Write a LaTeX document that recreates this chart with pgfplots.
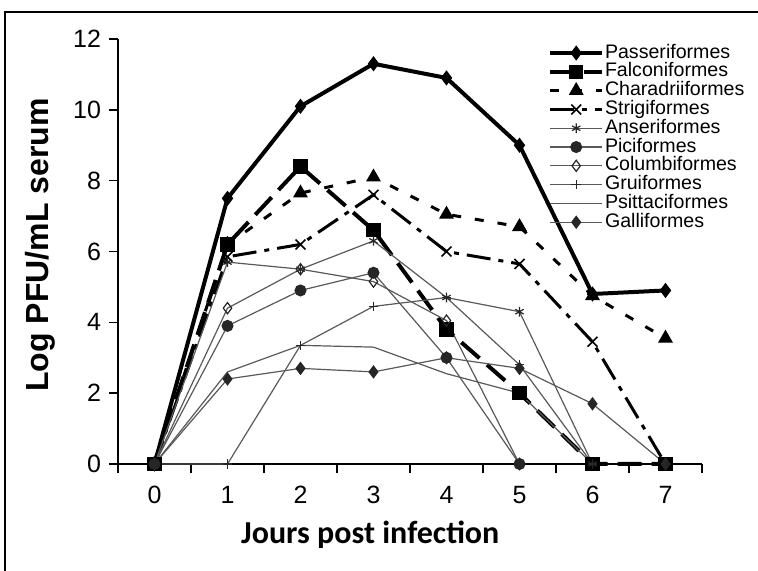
\documentclass[border=0pt]{standalone}
\usepackage{fontspec}
\setmainfont{Liberation Sans}
\newfontfamily\carlito{Carlito}
\usepackage{pgfplots}
\pgfplotsset{compat=1.18}
\begin{document}
\begin{tikzpicture}[x=1pt,y=1pt]
\useasboundingbox (0,0) rectangle (379,285.5);
\draw[line width=1pt] (2.5,-2) -- (2.5,279.5) -- (381,279.5);
\begin{axis}[
  at={(59pt,53.5pt)}, anchor=south west,
  scale only axis, width=292pt, height=212.5pt,
  xmin=-0.5, xmax=7.5, ymin=0, ymax=12,
  clip=false,
  axis lines=left, axis line style={-, line width=0.9pt},
  xtick={-0.5,0.5,...,7.5},
  xticklabels={0,1,2,3,4,5,6,7,{}},
  ytick={0,2,...,12},
  major tick length=4.5pt,
  tick align=outside, tick style={black, line width=0.8pt},
  ticklabel style={font=\fontsize{12.5}{12.5}\selectfont},
  yticklabel style={xshift=-0.5pt},
  xticklabel style={xshift=18.25pt, yshift=-3pt},
  /pgf/number format/assume math mode=true,
  xlabel={\carlito\bfseries Jours post infection},
  xlabel style={at={(axis description cs:0.432,-0.167)}, anchor=center, font=\fontsize{16}{16}\selectfont},
  ylabel={Log PFU/mL serum},
  ylabel style={at={(axis description cs:-0.133,0.515)}, anchor=center, font=\bfseries\fontsize{16}{16}\selectfont},
  legend cell align=left,
  legend style={at={(axis description cs:0.736,0.99)}, anchor=north west, draw=none, fill=none,
    inner sep=0pt, row sep=0pt, font=\fontsize{9.8}{9.8}\selectfont,
    nodes={inner sep=0.4pt, text height=6.8pt, text depth=1.8pt}},
  legend image code/.code={\draw[mark repeat=2,mark phase=2,#1] plot coordinates {(0pt,0pt) (13pt,0pt) (26pt,0pt)};},
  thin/.style={black!65, line width=0.6pt, mark size=2.4pt, mark options={solid, black!85}},
]
\addplot[black, line width=2pt, mark=diamond*, mark size=3.4pt, mark options={solid, line width=0.5pt}]
  coordinates {(0,0)(1,7.5)(2,10.1)(3,11.3)(4,10.9)(5,9.0)(6,4.8)(7,4.9)};
\addlegendentry{Passeriformes}
\addplot[black, line width=2pt, dash pattern=on 12pt off 5pt, mark=square*, mark size=3.3pt, mark options={solid, line width=0.5pt}]
  coordinates {(0,0)(1,6.2)(2,8.4)(3,6.6)(4,3.8)(5,2.0)(6,0)(7,0)};
\addlegendentry{Falconiformes}
\addplot[black, line width=1.5pt, dash pattern=on 4.5pt off 7pt, mark=triangle*, mark size=3.8pt, mark options={solid, line width=0.5pt}]
  coordinates {(0,0)(1,6.2)(2,7.65)(3,8.1)(4,7.05)(5,6.7)(6,4.75)(7,3.55)};
\addlegendentry{Charadriiformes}
\addplot[black, line width=1.5pt, dash pattern=on 12pt off 4pt on 2.5pt off 4pt, mark=x, mark size=3.5pt, mark options={solid, line width=0.8pt}]
  coordinates {(0,0)(1,5.85)(2,6.2)(3,7.6)(4,6.0)(5,5.65)(6,3.45)(7,0)};
\addlegendentry{Strigiformes}
\addplot[thin, mark=asterisk]
  coordinates {(0,0)(1,5.7)(2,5.5)(3,6.3)(4,4.7)(5,4.3)(6,0)};
\addlegendentry{Anseriformes}
\addplot[thin, mark=*, mark size=2.7pt]
  coordinates {(0,0)(1,3.9)(2,4.9)(3,5.4)(4,3.0)(5,0)};
\addlegendentry{Piciformes}
\addplot[thin, mark=diamond, mark size=2.8pt, mark options={solid, black!85, fill=white}]
  coordinates {(0,0)(1,4.4)(2,5.5)(3,5.15)(4,4.05)(5,0)};
\addlegendentry{Columbiformes}
\addplot[thin, mark=+]
  coordinates {(0,0)(1,0)(2,3.35)(3,4.45)(4,4.7)(5,2.8)(6,0)};
\addlegendentry{Gruiformes}
\addplot[thin]
  coordinates {(0,0)(1,2.6)(2,3.35)(3,3.3)(4,2.55)(5,2.0)(6,0)};
\addlegendentry{Psittaciformes}
\addplot[thin, mark=diamond*, mark size=2.9pt]
  coordinates {(0,0)(1,2.4)(2,2.7)(3,2.6)(4,3.0)(5,2.7)(6,1.7)(7,0)};
\addlegendentry{Galliformes}
\end{axis}
\end{tikzpicture}
\end{document}
